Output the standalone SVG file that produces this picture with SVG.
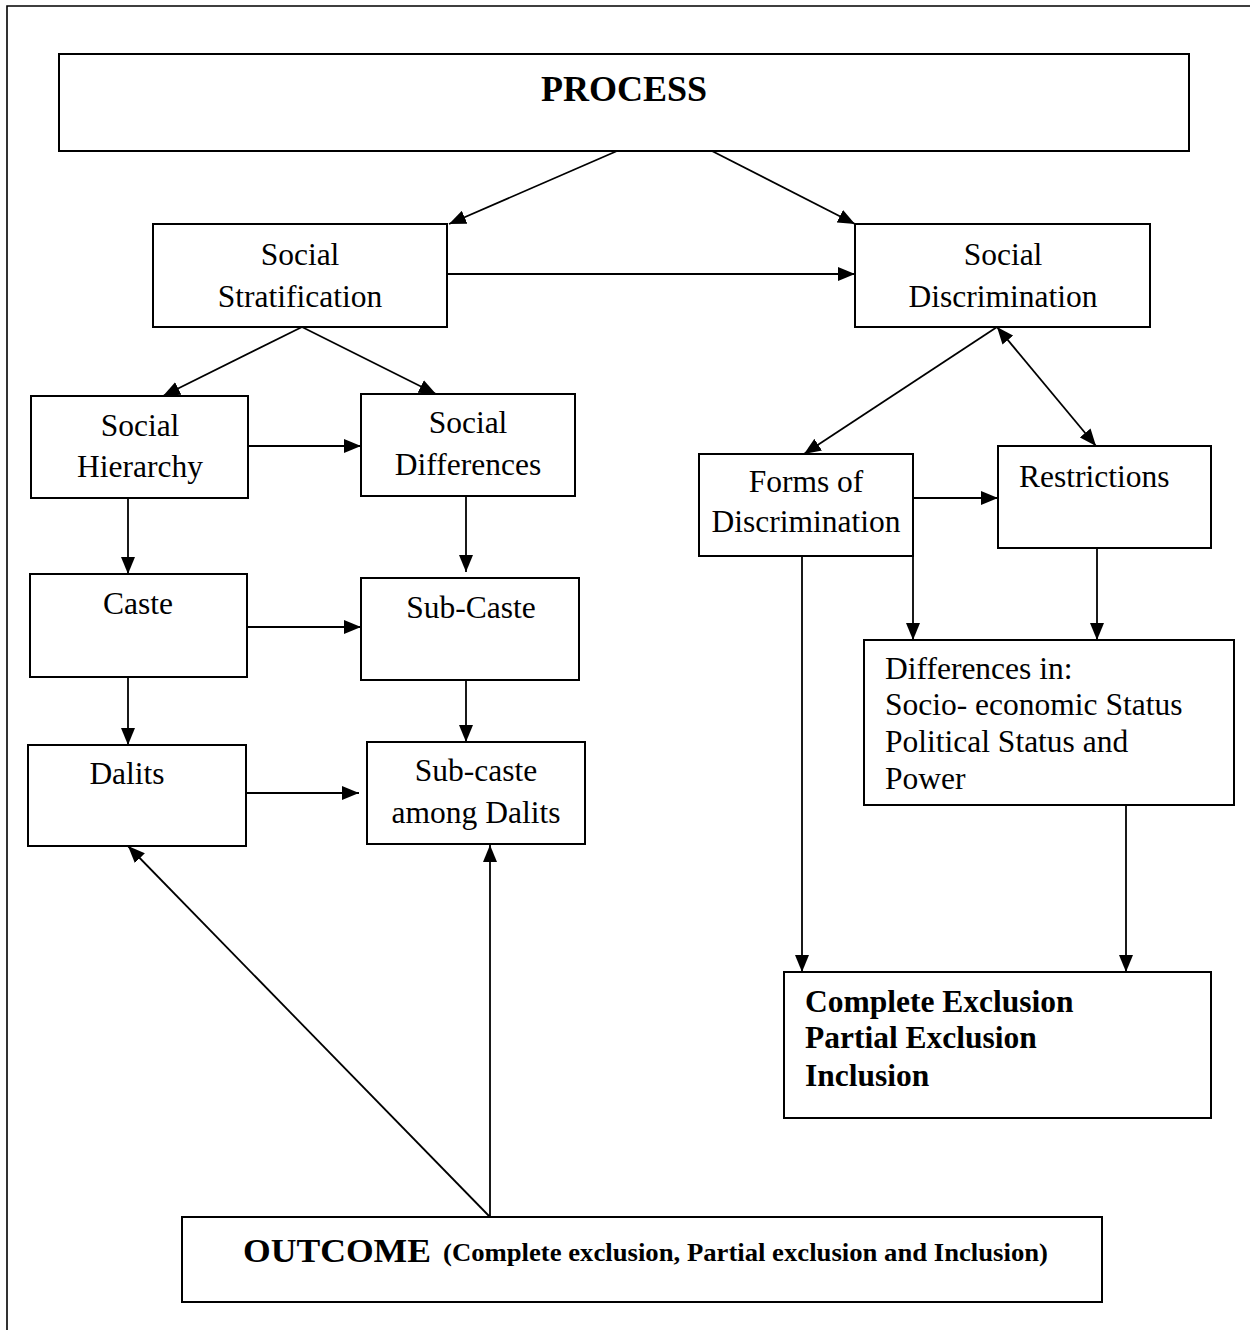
<svg xmlns="http://www.w3.org/2000/svg" width="1250" height="1330" viewBox="0 0 1250 1330">
  <style>
    .box { fill: #ffffff; stroke: #000000; stroke-width: 2; }
    .frame { fill: none; stroke: #000000; stroke-width: 1.6; }
    .link { fill: none; stroke: #000000; stroke-width: 1.8; marker-end: url(#head); }
    .both { marker-start: url(#head); }
    text { font-family: "Liberation Serif", "Times New Roman", serif; fill: #000000; }
    .t { font-size: 31.5px; }
    .c { text-anchor: middle; }
    .b { font-weight: bold; }
  </style>
  <defs>
    <marker id="head" viewBox="0 0 17 14" refX="17" refY="7" markerWidth="17" markerHeight="14" markerUnits="userSpaceOnUse" orient="auto-start-reverse">
      <path d="M0,0 L17,7 L0,14 Z" fill="#000000"/>
    </marker>
  </defs>

  <rect width="1250" height="1330" fill="#ffffff"/>

  <!-- page frame (top and left edges only) -->
  <path class="frame" d="M1250,6 H7 V1330"/>

  <g id="connectors">
    <line class="link" x1="617" y1="151" x2="449" y2="224"/>
    <line class="link" x1="712" y1="151" x2="855" y2="224"/>
    <line class="link" x1="447" y1="274" x2="855" y2="274"/>
    <line class="link" x1="302" y1="327" x2="163" y2="396"/>
    <line class="link" x1="302" y1="327" x2="436" y2="394"/>
    <line class="link" x1="248" y1="446" x2="361" y2="446"/>
    <line class="link" x1="128" y1="498" x2="128" y2="574"/>
    <line class="link" x1="466" y1="496" x2="466" y2="572"/>
    <line class="link" x1="247" y1="627" x2="361" y2="627"/>
    <line class="link" x1="128" y1="673" x2="128" y2="745"/>
    <line class="link" x1="466" y1="673" x2="466" y2="742"/>
    <line class="link" x1="246" y1="793" x2="359" y2="793"/>
    <line class="link" x1="490" y1="1217" x2="128" y2="846"/>
    <line class="link" x1="490" y1="1217" x2="490" y2="845"/>
    <line class="link" x1="997" y1="327" x2="804" y2="454"/>
    <line class="link both" x1="997" y1="327" x2="1096" y2="446"/>
    <line class="link" x1="913" y1="498" x2="998" y2="498"/>
    <line class="link" x1="913" y1="556" x2="913" y2="640"/>
    <line class="link" x1="1097" y1="548" x2="1097" y2="640"/>
    <line class="link" x1="802" y1="556" x2="802" y2="972"/>
    <line class="link" x1="1126" y1="805" x2="1126" y2="972"/>
  </g>

  <g id="process">
    <rect class="box" x="59" y="54" width="1130" height="97"/>
    <text class="c b" x="624" y="101" font-size="36">PROCESS</text>
  </g>

  <g id="social-stratification">
    <rect class="box" x="153" y="224" width="294" height="103"/>
    <text class="t c" x="300" y="265">Social</text>
    <text class="t c" x="300" y="307">Stratification</text>
  </g>

  <g id="social-discrimination">
    <rect class="box" x="855" y="224" width="295" height="103"/>
    <text class="t c" x="1003" y="265">Social</text>
    <text class="t c" x="1003" y="307">Discrimination</text>
  </g>

  <g id="social-hierarchy">
    <rect class="box" x="31" y="396" width="217" height="102"/>
    <text class="t c" x="140" y="436">Social</text>
    <text class="t c" x="140" y="477">Hierarchy</text>
  </g>

  <g id="social-differences">
    <rect class="box" x="361" y="394" width="214" height="102"/>
    <text class="t c" x="468" y="433">Social</text>
    <text class="t c" x="468" y="475">Differences</text>
  </g>

  <g id="caste">
    <rect class="box" x="30" y="574" width="217" height="103"/>
    <text class="t c" x="138" y="614">Caste</text>
  </g>

  <g id="sub-caste">
    <rect class="box" x="361" y="578" width="218" height="102"/>
    <text class="t c" x="471" y="618">Sub-Caste</text>
  </g>

  <g id="dalits">
    <rect class="box" x="28" y="745" width="218" height="101"/>
    <text class="t c" x="127" y="784">Dalits</text>
  </g>

  <g id="sub-caste-among-dalits">
    <rect class="box" x="367" y="742" width="218" height="102"/>
    <text class="t c" x="476" y="781">Sub-caste</text>
    <text class="t c" x="476" y="823">among Dalits</text>
  </g>

  <g id="forms-of-discrimination">
    <rect class="box" x="699" y="454" width="214" height="102"/>
    <text class="t c" x="806" y="492">Forms of</text>
    <text class="t c" x="806" y="532">Discrimination</text>
  </g>

  <g id="restrictions">
    <rect class="box" x="998" y="446" width="213" height="102"/>
    <text class="t" x="1019" y="487">Restrictions</text>
  </g>

  <g id="differences-in">
    <rect class="box" x="864" y="640" width="370" height="165"/>
    <text class="t" x="885" y="679">Differences in:</text>
    <text class="t" x="885" y="715">Socio- economic Status</text>
    <text class="t" x="885" y="752">Political Status and</text>
    <text class="t" x="885" y="789">Power</text>
  </g>

  <g id="exclusion-levels">
    <rect class="box" x="784" y="972" width="427" height="146"/>
    <text class="t b" x="805" y="1012">Complete Exclusion</text>
    <text class="t b" x="805" y="1048">Partial Exclusion</text>
    <text class="t b" x="805" y="1086">Inclusion</text>
  </g>

  <g id="outcome">
    <rect class="box" x="182" y="1217" width="920" height="85"/>
    <text class="b" x="243" y="1262" font-size="34" textLength="188" lengthAdjust="spacingAndGlyphs">OUTCOME</text>
    <text class="b" x="443" y="1261" font-size="25" textLength="605" lengthAdjust="spacingAndGlyphs">(Complete exclusion, Partial exclusion and Inclusion)</text>
  </g>
</svg>
